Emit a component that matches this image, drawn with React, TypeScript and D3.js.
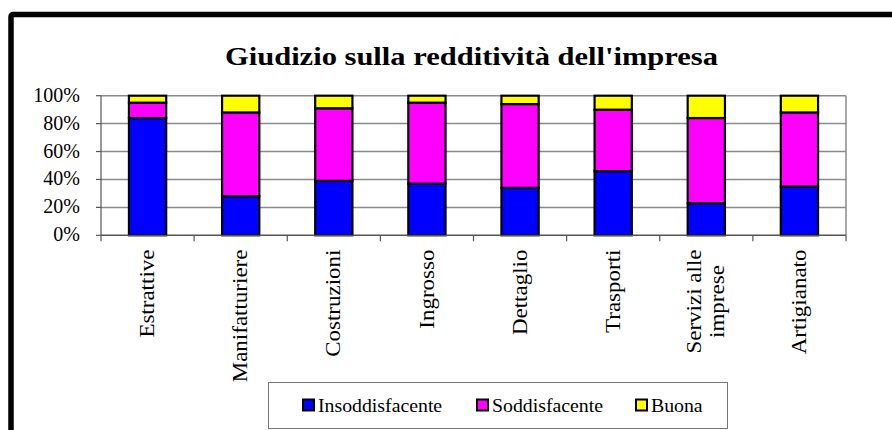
import React, { useEffect, useRef } from "react";
import * as d3 from "d3";

const categories: string[][] = [
  ["Estrattive"],
  ["Manifatturiere"],
  ["Costruzioni"],
  ["Ingrosso"],
  ["Dettaglio"],
  ["Trasporti"],
  ["Servizi alle", "imprese"],
  ["Artigianato"],
];
const seriesNames = ["Insoddisfacente", "Soddisfacente", "Buona"];
const insoddisfacente = [84, 28, 39, 37, 34, 46, 23, 35];
const soddisfacente = [11, 60, 52, 58, 60, 44, 61, 53];
const buona = [5, 12, 9, 5, 6, 10, 16, 12];
const yTicks = [0, 0.2, 0.4, 0.6, 0.8, 1];
const title = "Giudizio sulla redditività dell'impresa";

const colors = ["#0000FF", "#FF00FF", "#FFFF00"];
const FONT = "'Liberation Serif', 'Times New Roman', serif";

export default function App() {
  const ref = useRef<SVGSVGElement | null>(null);

  useEffect(() => {
    const svg = d3.select(ref.current);
    svg.selectAll("*").remove();

    const left = 101, right = 846, top = 95.7, bottom = 235.3;

    // Outer frame
    svg.append("rect")
      .attr("x", 11).attr("y", 14.5)
      .attr("width", 1000).attr("height", 1000)
      .attr("rx", 2)
      .attr("fill", "#fff")
      .attr("stroke", "#000").attr("stroke-width", 5.5);

    // Title
    svg.append("text")
      .attr("x", 225).attr("y", 65)
      .attr("font-family", FONT).attr("font-weight", "bold").attr("font-size", 26)
      .attr("textLength", 493).attr("lengthAdjust", "spacingAndGlyphs")
      .text(title);

    const keys = categories.map((c) => c.join(" "));
    const x = d3.scaleBand<string>().domain(keys).range([left, right]).paddingInner(0.6).paddingOuter(0.3);
    const y = d3.scaleLinear().domain([0, 1]).range([bottom, top]);

    const rows = keys.map((k, i) => {
      const total = insoddisfacente[i] + soddisfacente[i] + buona[i];
      return {
        key: k,
        Insoddisfacente: insoddisfacente[i] / total,
        Soddisfacente: soddisfacente[i] / total,
        Buona: buona[i] / total,
      };
    });
    const stacked = d3.stack<any>().keys(seriesNames)(rows);

    // gridlines
    svg.append("g").selectAll("line").data(yTicks).join("line")
      .attr("x1", left).attr("x2", right)
      .attr("y1", (d) => y(d)).attr("y2", (d) => y(d))
      .attr("stroke", "#8a8a8a").attr("stroke-width", 1.5);
    // right border
    svg.append("line").attr("x1", right).attr("x2", right).attr("y1", top).attr("y2", bottom)
      .attr("stroke", "#8a8a8a").attr("stroke-width", 1.5);

    // bars
    const step = x.step();
    svg.append("g").selectAll("g").data(stacked).join("g")
      .attr("fill", (_d, i) => colors[i])
      .selectAll("rect").data((d) => d).join("rect")
      .attr("x", (d: any) => (x(d.data.key) as number))
      .attr("width", x.bandwidth())
      .attr("y", (d: any) => y(d[1]))
      .attr("height", (d: any) => y(d[0]) - y(d[1]))
      .attr("stroke", "#000").attr("stroke-width", 2.2);

    // axes
    const axisColor = "#555";
    svg.append("line").attr("x1", left).attr("x2", left).attr("y1", top).attr("y2", bottom)
      .attr("stroke", axisColor).attr("stroke-width", 1.2);
    svg.append("line").attr("x1", left).attr("x2", right).attr("y1", bottom).attr("y2", bottom)
      .attr("stroke", axisColor).attr("stroke-width", 1.2);
    svg.append("g").selectAll("line").data(yTicks).join("line")
      .attr("x1", left - 5).attr("x2", left)
      .attr("y1", (d) => y(d)).attr("y2", (d) => y(d))
      .attr("stroke", axisColor).attr("stroke-width", 1.2);
    const xTickPos = d3.range(keys.length + 1).map((i) => left + i * step);
    svg.append("g").selectAll("line").data(xTickPos).join("line")
      .attr("x1", (d) => d).attr("x2", (d) => d)
      .attr("y1", bottom).attr("y2", bottom + 6)
      .attr("stroke", axisColor).attr("stroke-width", 1.2);

    // y tick labels
    const fmt = d3.format(".0%");
    svg.append("g").selectAll("text").data(yTicks).join("text")
      .attr("x", 80).attr("y", (d) => y(d))
      .attr("dy", "0.3em")
      .attr("text-anchor", "end")
      .attr("font-family", FONT).attr("font-size", 20)
      .text((d) => fmt(d));

    // category labels (rotated)
    const lineH = 23;
    const labelTop = 249.5;
    const sx = 1.15;
    categories.forEach((lines, i) => {
      const cx = (x(keys[i]) as number) + x.bandwidth() / 2;
      const g = svg.append("g");
      const texts = lines.map((ln, j) => {
        const off = (j - (lines.length - 1) / 2) * lineH;
        return g.append("text")
          .attr("font-family", FONT).attr("font-size", 20)
          .attr("text-anchor", "middle")
          .attr("dy", "0.33em")
          .text(ln)
          .datum(off);
      });
      const widths = texts.map((t) => (t.node() as SVGTextElement).getComputedTextLength() * sx);
      const maxW = Math.max(...widths);
      texts.forEach((t) => {
        const off = t.datum() as number;
        t.attr("transform", `translate(${cx + off},${labelTop + maxW / 2}) rotate(-90) scale(${sx},1)`);
      });
    });

    // legend
    const lg = svg.append("g");
    lg.append("rect").attr("x", 268.5).attr("y", 382.5).attr("width", 459).attr("height", 46)
      .attr("fill", "#fff").attr("stroke", "#777").attr("stroke-width", 1);
    const legendX = [302, 476, 635];
    seriesNames.forEach((name, i) => {
      lg.append("rect").attr("x", legendX[i] + 1).attr("y", 399.5).attr("width", 11).attr("height", 11)
        .attr("fill", colors[i]).attr("stroke", "#000").attr("stroke-width", 2);
      lg.append("text")
        .attr("transform", `translate(${legendX[i] + 16},${411.5}) scale(1.1,1)`)
        .attr("font-family", FONT).attr("font-size", 18)
        .text(name);
    });
  }, []);

  return (
    <svg
      ref={ref}
      width={892}
      height={430}
      style={{ position: "absolute", left: 0, top: 0, background: "#fff" }}
    />
  );
}
